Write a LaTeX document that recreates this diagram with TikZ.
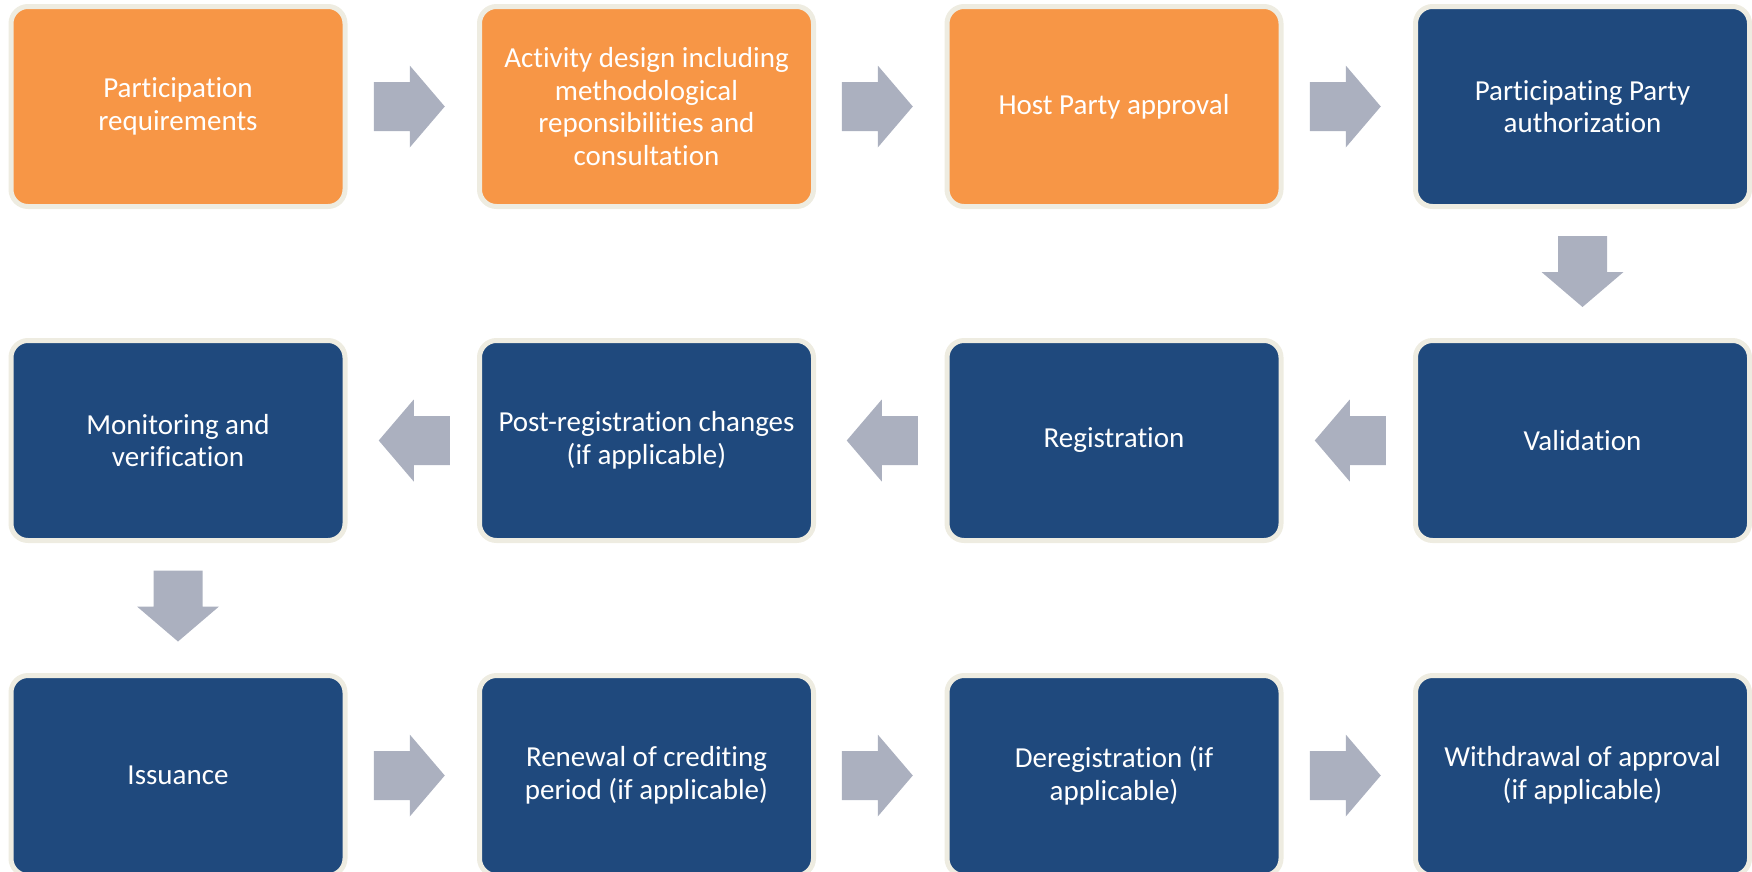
\documentclass[tikz,border=0pt]{standalone}
\usepackage{fontspec}
\setmainfont{Carlito}[Ligatures={NoCommon}]
\usetikzlibrary{calc}
\definecolor{orangebox}{HTML}{F79646}
\definecolor{navybox}{HTML}{1F497D}
\definecolor{cream}{HTML}{EEECE1}
\definecolor{arrowgray}{HTML}{ABB0BF}
\tikzset{
  stepbox/.style={rounded corners=17pt, draw=cream, line width=5pt,
    minimum width=334pt, minimum height=200pt, inner sep=0pt,
    text=white, align=center,
    font=\fontsize{29pt}{32.5pt}\selectfont},
  orangestep/.style={stepbox, fill=orangebox},
  navystep/.style={stepbox, fill=navybox},
  blockarrow/.pic={\fill[arrowgray] (-35.5,-24.5) -- (0.5,-24.5) -- (0.5,-41) -- (35.5,0) -- (0.5,41) -- (0.5,24.5) -- (-35.5,24.5) -- cycle;}
}
\begin{document}
\begin{tikzpicture}[x=1pt,y=-1pt]
\useasboundingbox (0,0) rectangle (1752,871);
% row 1
\node[orangestep] (a1) at (178,106.5) {Participation\\requirements};
\node[orangestep] (a2) at (646.5,106.5) {Activity design including\\methodological\\reponsibilities and\\consultation};
\node[orangestep] (a3) at (1114,106.5) {Host Party approval};
\node[navystep] (a4) at (1582.5,106.5) {Participating Party\\authorization};
% row 2
\node[navystep] (b1) at (178,440.5) {Monitoring and\\verification};
\node[navystep] (b2) at (646.5,440.5) {Post-registration changes\\(if applicable)};
\node[navystep] (b3) at (1114,440.5) {Registration};
\node[navystep] (b4) at (1582.5,440.5) {Validation};
% row 3
\node[navystep] (c1) at (178,775.5) {Issuance};
\node[navystep] (c2) at (646.5,775.5) {Renewal of crediting\\period (if applicable)};
\node[navystep] (c3) at (1114,775.5) {Deregistration (if\\applicable)};
\node[navystep] (c4) at (1582.5,775.5) {Withdrawal of approval\\(if applicable)};
% arrows
\pic at ($(a1.east)!0.5!(a2.west)+(-3,0)$) {blockarrow};
\pic at ($(a2.east)!0.5!(a3.west)+(-3,0)$) {blockarrow};
\pic at ($(a3.east)!0.5!(a4.west)+(-3,0)$) {blockarrow};
\pic[rotate=-90] at ($(a4.south)!0.5!(b4.north)+(0,-2)$) {blockarrow};
\pic[rotate=180] at ($(b4.west)!0.5!(b3.east)+(2,0)$) {blockarrow};
\pic[rotate=180] at ($(b3.west)!0.5!(b2.east)+(2,0)$) {blockarrow};
\pic[rotate=180] at ($(b2.west)!0.5!(b1.east)+(2,0)$) {blockarrow};
\pic[rotate=-90] at ($(b1.south)!0.5!(c1.north)+(0,-2)$) {blockarrow};
\pic at ($(c1.east)!0.5!(c2.west)+(-3,0)$) {blockarrow};
\pic at ($(c2.east)!0.5!(c3.west)+(-3,0)$) {blockarrow};
\pic at ($(c3.east)!0.5!(c4.west)+(-3,0)$) {blockarrow};
\end{tikzpicture}
\end{document}
